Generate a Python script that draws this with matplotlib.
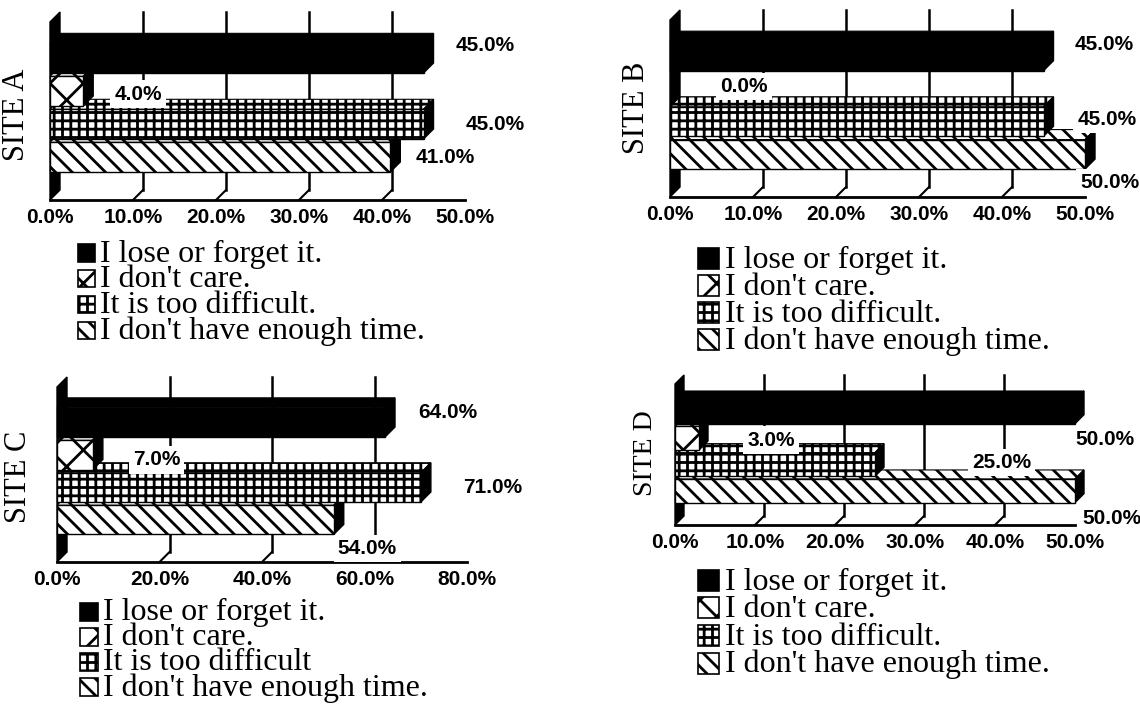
import matplotlib.pyplot as plt
import numpy as np
from matplotlib.patches import Polygon, Rectangle
from matplotlib.lines import Line2D

plt.rcParams['hatch.linewidth'] = 2.0

# survey answers, top bar first
reasons = ["I lose or forget it.", "I don't care.",
           "It is too difficult.", "I don't have enough time."]
reasons_c = ["I lose or forget it.", "I don't care.",
             "It is too difficult", "I don't have enough time."]
site_a = [45.0, 4.0, 45.0, 41.0]
site_b = [45.0, 0.0, 45.0, 50.0]
site_c = [64.0, 7.0, 71.0, 54.0]
site_d = [50.0, 3.0, 25.0, 50.0]
ticks_50 = [0, 10, 20, 30, 40, 50]
ticks_80 = [0, 20, 40, 60, 80]
tick_labels_50 = ['0.0%', '10.0%', '20.0%', '30.0%', '40.0%', '50.0%']
tick_labels_80 = ['0.0%', '20.0%', '40.0%', '60.0%', '80.0%']

fills = ['black', 'white', 'white', 'white']
hatches = [None, 'x', '++', '\\\\']

W, H = 1140, 724
DEPTH = 10  # px, the fake 3d depth
SANS = ['Liberation Sans', 'DejaVu Sans']
SERIF = ['Liberation Serif', 'DejaVu Serif']
KEY_FS = 23
LINE_UNIT = 0.95 * KEY_FS * 100 / 72  # px between baselines at linespacing 1

fig = plt.figure(figsize=(W / 100, H / 100), dpi=100)


def box(l, t, r, b):
    return [l / W, 1 - b / H, (r - l) / W, (b - t) / H]


def draw_site(rect, values, ticks, labels, shifts, depth=DEPTH):
    ax = fig.add_axes(box(*rect))
    y0, y1 = -1.3, 4.4
    ax.set_xlim(0, ticks[-1])
    ax.set_ylim(y0, y1)
    dx = depth * ticks[-1] / ax.bbox.width
    dy = depth * (y1 - y0) / ax.bbox.height

    # back wall, floor edge and grid
    ax.add_patch(Polygon([(0, y0), (dx, y0 + dy), (dx, y1), (0, y1 - dy)],
                         closed=True, color='black', zorder=1.5, clip_on=False))
    ax.add_line(Line2D([0, ticks[-1]], [y0, y0], color='black', lw=2,
                       zorder=1.5, clip_on=False))
    for t in ticks[1:-1]:
        ax.add_line(Line2D([t + dx, t + dx], [y0 + dy, y1], color='black',
                           lw=1.8, zorder=1, clip_on=False))
        ax.add_line(Line2D([t, t + dx], [y0, y0 + dy], color='black',
                           lw=1.5, zorder=1, clip_on=False))

    n = len(values)
    h = 0.9
    for i in range(n - 1, -1, -1):
        v = values[i]
        y = n - 1 - i
        z = 2 + 3 * y
        yb, yt = y - h / 2, y + h / 2
        if v > 0:
            ax.add_patch(Polygon([(0, yt), (v, yt), (v + dx, yt + dy), (dx, yt + dy)],
                                 closed=True, facecolor=fills[i], edgecolor='black',
                                 hatch=hatches[i], lw=0.8, zorder=z, clip_on=False))
            ax.add_patch(Polygon([(v, yb), (v + dx, yb + dy), (v + dx, yt + dy), (v, yt)],
                                 closed=True, color='black', zorder=z + 1,
                                 clip_on=False))
            ax.barh(y, v, height=h, color=fills[i], edgecolor='black',
                    hatch=hatches[i], lw=1, zorder=z + 2, clip_on=False)
        sx, sy = shifts[i]
        ax.annotate(f'{v:.1f}%', xy=(v, y), xytext=(sx, sy),
                    textcoords='offset pixels', ha='left', va='center',
                    fontsize=15, fontweight='bold', family=SANS,
                    zorder=30, annotation_clip=False,
                    bbox=dict(boxstyle='square,pad=0.2', fc='white', ec='none'))

    ax.set_xticks(ticks)
    ax.set_xticklabels(labels, fontsize=15, fontweight='bold', family=SANS)
    ax.set_yticks([])
    ax.tick_params(length=0, pad=6)
    for s in ax.spines.values():
        s.set_visible(False)
    ax.patch.set_visible(False)
    return ax


def draw_key(x, y, step, size, tx, labels):
    n = len(labels)
    for i in range(n):
        cy = y + i * step
        fig.add_artist(Rectangle((x / W, 1 - (cy + size / 2) / H),
                                 size / W, size / H, facecolor=fills[i],
                                 edgecolor='black', hatch=hatches[i], lw=1.2,
                                 transform=fig.transFigure))
    # one text block, anchored on the baseline of its last line
    last = y + (n - 1) * step + 9
    fig.text(tx / W, 1 - last / H, '\n'.join(labels), fontsize=KEY_FS,
             family=SERIF, va='baseline', ha='left',
             linespacing=step / LINE_UNIT)


def site_name(x, y, name, fs=22):
    fig.text(x / W, 1 - y / H, name, rotation=90, fontsize=fs, family=SERIF,
             ha='center', va='center')


draw_site((50, 12, 465, 200), site_a, ticks_50, tick_labels_50,
          [(32, 13), (31, -3), (42, 0), (25, 0)])
draw_site((670, 10, 1085, 197), site_b, ticks_50, tick_labels_50,
          [(31, 11), (50, 2), (34, 2), (-5, -28)])
draw_site((57, 377, 467, 562), site_c, ticks_80, tick_labels_80,
          [(33, 10), (40, -5), (42, 0), (4, -29)])
draw_site((675, 375, 1075, 525), site_d, ticks_50, tick_labels_50,
          [(0, -28), (48, -2), (97, 2), (7, -28)], depth=9)

site_name(17, 115, 'SITE A')
site_name(637, 108, 'SITE B')
site_name(19, 477, 'SITE C')
site_name(646, 453, 'SITE D', fs=20)

draw_key(78, 253, 25.7, 17, 100, reasons)
draw_key(698, 258, 27.3, 21, 725, reasons)
draw_key(80, 612, 25.0, 18, 103, reasons_c)
draw_key(698, 580, 27.7, 21, 725, reasons)

fig.savefig('out.png', dpi=100)
